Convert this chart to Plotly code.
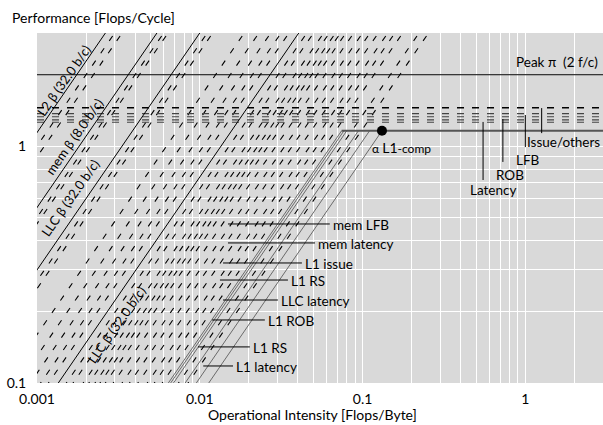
import math
import plotly.graph_objects as go

# ---------------- data ----------------
x_range = [0.001, 3.0]
y_range = [0.1, 3.0]

peak_perf = 2.0
l1_comp_perf = 1.16
l1_comp_I = 0.1316

solid_names = ["L2 β (32.0 b/c)", "mem β (8.0 b/c)", "LLC β (32.0 b/c)", "LLC β (32.0 b/c)"]
solid_bw = [1140, 550, 300, 74]
solid_label_I = [0.001465, 0.001688, 0.001594, 0.003058]
solid_label_P = [1.903, 1.09, 0.6048, 0.1765]

l1_bw = [15.6, 15.1, 14.5, 12.3, 10.5, 8.81]

dashed_bw = [1000, 900, 500, 470, 270, 250, 160, 130, 110, 95, 85, 66, 60, 52,
             48, 44, 41, 38, 34, 30, 27, 24, 21, 19, 17, 13.5, 11.8]

ceil_perf = [1.45, 1.37, 1.33, 1.29, 1.26]
ceil_names = ["Issue/others", "LFB", "ROB", "Latency"]
ceil_lead_I = [1.26, 1.0, 0.728, 0.55]
ceil_lead_top = [1.446, 1.352, 1.30, 1.264]
ceil_lead_bot = [1.134, 0.99, 0.857, 0.719]
ceil_text_I = [1.0, 1.037, 0.804, 0.632]
ceil_text_P = [1.04, 0.872, 0.753, 0.653]

lead_names = ["mem LFB", "mem latency", "L1 issue", "L1 RS", "LLC latency",
              "L1 ROB", "L1 RS", "L1 latency"]
lead_P = [0.469, 0.390, 0.321, 0.272, 0.224, 0.1845, 0.142, 0.118]
lead_from_I = [0.0149, 0.0149, 0.0139, 0.0133, 0.0139, 0.0119, 0.00975, 0.0105]
lead_to_I = [0.0629, 0.0510, 0.0424, 0.0348, 0.0302, 0.0251, 0.0203, 0.0160]

FONT = "Lato"
P_LO, P_HI = 1e-3, 10.0

fig = go.Figure()

def add_line(xs, ys, color="black", width=1, dash="solid"):
    fig.add_trace(go.Scatter(x=xs, y=ys, mode="lines",
                             line=dict(color=color, width=width, dash=dash),
                             hoverinfo="skip", showlegend=False))

# dashed bandwidth ceilings
for b in dashed_bw:
    add_line([P_LO / b, P_HI / b], [P_LO, P_HI], "black", 1.1, "6px,9px")

# horizontal dashed compute ceilings
for i, p in enumerate(ceil_perf):
    if i == 0:
        add_line([x_range[0], 10], [p, p], "black", 1.6, "7px,8px")
    else:
        add_line([x_range[0], 10], [p, p], "#444444", 1.1, "7px,8px")

# L1 ceilings (gray) ending at L1-comp
for b in l1_bw:
    add_line([P_LO / b, l1_comp_perf / b], [P_LO, l1_comp_perf], "#6a6a6a", 1)

# L1-comp horizontal
add_line([l1_comp_perf / l1_bw[0], 10], [l1_comp_perf, l1_comp_perf], "#555555", 2)

# peak
add_line([1e-6, 10], [peak_perf, peak_perf], "black", 1)

# solid bandwidth roofs
for b in solid_bw:
    add_line([P_LO / b, P_HI / b], [P_LO, P_HI], "black", 1)

# leaders for compute ceilings
for xi, t, bt in zip(ceil_lead_I, ceil_lead_top, ceil_lead_bot):
    add_line([xi, xi], [t, bt], "black", 1)

# leaders for L1 labels
for p, a, b in zip(lead_P, lead_from_I, lead_to_I):
    add_line([a, b], [p, p], "black", 1)

# dot
fig.add_trace(go.Scatter(x=[l1_comp_I], y=[l1_comp_perf], mode="markers",
                         marker=dict(color="black", size=10),
                         hoverinfo="skip", showlegend=False))

ann = []
for name, xi, yi in zip(solid_names, solid_label_I, solid_label_P):
    ann.append(dict(x=math.log10(xi), y=math.log10(yi), text=name, showarrow=False,
                    textangle=-55, font=dict(size=13)))
for name, xi, p in zip(lead_names, lead_to_I, lead_P):
    ann.append(dict(x=math.log10(xi), y=math.log10(p), text=name, showarrow=False,
                    xanchor="left", yanchor="middle", xshift=1, yshift=-1,
                    font=dict(size=13.5)))
for name, xi, yi in zip(ceil_names, ceil_text_I, ceil_text_P):
    anchor = "left" if name == "Issue/others" else "center"
    ann.append(dict(x=math.log10(xi), y=math.log10(yi), text=name, showarrow=False,
                    xanchor=anchor, yanchor="middle", font=dict(size=13.5)))
ann.append(dict(x=1, xref="paper", y=math.log10(2.27), text="Peak π  (2 f/c)",
                showarrow=False, xanchor="right", yanchor="middle", xshift=-3,
                font=dict(size=13.5)))
ann.append(dict(x=math.log10(0.111), y=math.log10(1.0),
                text="α <span style='font-size:14px'>L1</span>-comp",
                showarrow=False, xanchor="left", yanchor="middle", yshift=-1,
                font=dict(size=12)))
ann.append(dict(x=-0.048, xref="paper", y=1.0, yref="paper", yshift=5,
                text="Performance [Flops/Cycle]", showarrow=False,
                xanchor="left", yanchor="bottom", font=dict(size=14)))
ann.append(dict(x=0.487, xref="paper", y=0, yref="paper", yshift=-21,
                text="Operational Intensity [Flops/Byte]", showarrow=False,
                xanchor="center", yanchor="top", font=dict(size=14)))

x_minor = [m * 10 ** e for e in range(-3, 1) for m in range(2, 10)]
y_minor = [m * 10 ** e for e in range(-1, 1) for m in range(2, 10)]

fig.update_layout(
    width=603, height=425,
    margin=dict(l=37, r=0, t=33, b=42),
    paper_bgcolor="white", plot_bgcolor="#d9d9d9",
    font=dict(family=FONT, size=14, color="black"),
    annotations=ann,
    xaxis=dict(type="log", range=[math.log10(x_range[0]), math.log10(x_range[1])],
               tickvals=[0.001, 0.01, 0.1, 1], ticktext=["0.001", "0.01", "0.1", "1"],
               showgrid=True, gridcolor="white", gridwidth=1, zeroline=False,
               ticks="outside", ticklen=3, tickcolor="rgba(0,0,0,0)",
               minor=dict(tickvals=x_minor, showgrid=True, gridcolor="white", gridwidth=1),
               tickfont=dict(size=14)),
    yaxis=dict(type="log", range=[math.log10(y_range[0]), math.log10(y_range[1])],
               tickvals=[0.1, 1], ticktext=["0.1", "1"],
               showgrid=True, gridcolor="white", gridwidth=1, zeroline=False,
               ticks="outside", ticklen=7, tickcolor="rgba(0,0,0,0)",
               minor=dict(tickvals=y_minor, showgrid=True, gridcolor="white", gridwidth=1),
               tickfont=dict(size=14)),
)

fig.write_html("out.html", config={"displayModeBar": False},
               post_script="document.body.style.margin='0px';document.body.style.padding='0px';")
